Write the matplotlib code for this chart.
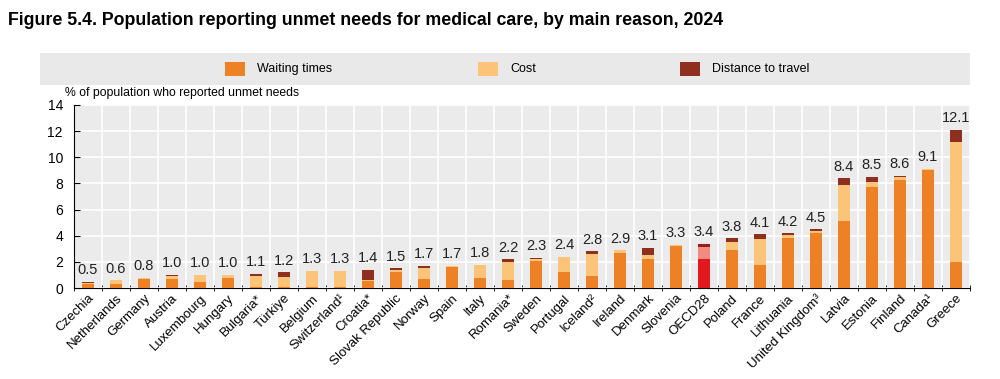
import numpy as np
import matplotlib
matplotlib.use('Agg')
import matplotlib.pyplot as plt
from matplotlib.patches import Rectangle

countries = ['Czechia', 'Netherlands', 'Germany', 'Austria', 'Luxembourg', 'Hungary',
             'Bulgaria*', 'Türkiye', 'Belgium', 'Switzerland¹', 'Croatia*', 'Slovak Republic',
             'Norway', 'Spain', 'Italy', 'Romania*', 'Sweden', 'Portugal', 'Iceland²',
             'Ireland', 'Denmark', 'Slovenia', 'OECD28', 'Poland', 'France', 'Lithuania',
             'United Kingdom³', 'Latvia', 'Estonia', 'Finland', 'Canada¹', 'Greece']
waiting = [0.3, 0.3, 0.7, 0.7, 0.5, 0.8, 0.1, 0.1, 0.1, 0.05, 0.55, 1.2,
           0.7, 1.6, 0.8, 0.6, 2.1, 1.2, 0.9, 2.7, 2.2, 3.25, 2.2, 2.9,
           1.8, 3.85, 4.2, 5.1, 7.7, 8.3, 9.05, 2.0]
cost = [0.1, 0.3, 0.1, 0.2, 0.5, 0.2, 0.8, 0.75, 1.2, 1.25, 0.1, 0.2,
        0.8, 0.1, 1.0, 1.4, 0.1, 1.2, 1.7, 0.2, 0.3, 0.05, 0.95, 0.65,
        1.95, 0.2, 0.15, 2.8, 0.4, 0.2, 0.05, 9.2]
distance = [0.1, 0.0, 0.0, 0.1, 0.0, 0.0, 0.2, 0.35, 0.0, 0.0, 0.75, 0.1,
            0.2, 0.0, 0.0, 0.2, 0.1, 0.0, 0.2, 0.0, 0.6, 0.0, 0.25, 0.25,
            0.35, 0.15, 0.15, 0.5, 0.4, 0.1, 0.0, 0.9]
totals = [0.5, 0.6, 0.8, 1.0, 1.0, 1.0, 1.1, 1.2, 1.3, 1.3, 1.4, 1.5,
          1.7, 1.7, 1.8, 2.2, 2.3, 2.4, 2.8, 2.9, 3.1, 3.3, 3.4, 3.8,
          4.1, 4.2, 4.5, 8.4, 8.5, 8.6, 9.1, 12.1]

plt.rcParams['font.family'] = ['Liberation Sans', 'DejaVu Sans']

c_wait, c_cost, c_dist = '#EE8026', '#FBC478', '#8F2F20'
o_wait, o_cost, o_dist = '#E1191F', '#F28A7E', '#9E1A1A'

fig = plt.figure(figsize=(10, 3.79), dpi=100)
ax = fig.add_axes([0.074, 0.24, 0.896, 0.483])

x = np.arange(len(countries))
w = np.array(waiting)
c = np.array(cost)
d = np.array(distance)
oecd = countries.index('OECD28')
cw = [o_wait if i == oecd else c_wait for i in x]
cc = [o_cost if i == oecd else c_cost for i in x]
cd = [o_dist if i == oecd else c_dist for i in x]
ax.bar(x, w, width=0.45, color=cw, zorder=3)
ax.bar(x, c, width=0.45, bottom=w, color=cc, zorder=3)
ax.bar(x, d, width=0.45, bottom=w + c, color=cd, zorder=3)
for i, t in enumerate(totals):
    ax.text(i, w[i] + c[i] + d[i] + 0.35, f'{t:.1f}', ha='center', va='bottom',
            fontsize=10.5, color='#222222', zorder=4)

ax.set_facecolor('#EBEBEB')
ax.set_xlim(-0.5, len(countries) - 0.5)
ax.set_ylim(0, 14)
ax.set_yticks(range(0, 15, 2))
ax.set_xticks(x)
ax.set_xticklabels(countries, rotation=45, ha='right', rotation_mode='anchor', fontsize=9.5)
ax.set_xticks(np.arange(-0.5, len(countries), 1), minor=True)
ax.tick_params(axis='x', which='major', length=0, pad=3)
ax.tick_params(axis='x', which='minor', length=4, direction='inout', color='black')
ax.tick_params(axis='y', length=4, direction='in', labelsize=10, pad=8)
ax.grid(True, axis='y', color='white', linewidth=1.2, zorder=1)
ax.grid(True, axis='x', which='minor', color='white', linewidth=1.2, zorder=1)
for s in ['top', 'right']:
    ax.spines[s].set_visible(False)
ax.spines['left'].set_color('black')
ax.spines['bottom'].set_color('black')

ax.text(-0.01, 1.03, '% of population who reported unmet needs', transform=ax.transAxes,
        fontsize=8.8, ha='left', va='bottom')

# legend band
fig.patches.append(Rectangle((0.04, 0.775), 0.93, 0.085, transform=fig.transFigure,
                             facecolor='#E9E9E9', edgecolor='none', zorder=0))
for xx, col, lab in [(0.225, c_wait, 'Waiting times'), (0.478, c_cost, 'Cost'),
                     (0.68, c_dist, 'Distance to travel')]:
    fig.patches.append(Rectangle((xx, 0.8), 0.02, 0.037, transform=fig.transFigure,
                                 facecolor=col, edgecolor='none'))
    fig.text(xx + 0.032, 0.818, lab, fontsize=9, va='center', ha='left')

fig.text(0.008, 0.945, 'Figure 5.4. Population reporting unmet needs for medical care, by main reason, 2024',
         fontsize=12.8, fontweight='bold', va='center', ha='left')

fig.savefig('out.png', dpi=100)
